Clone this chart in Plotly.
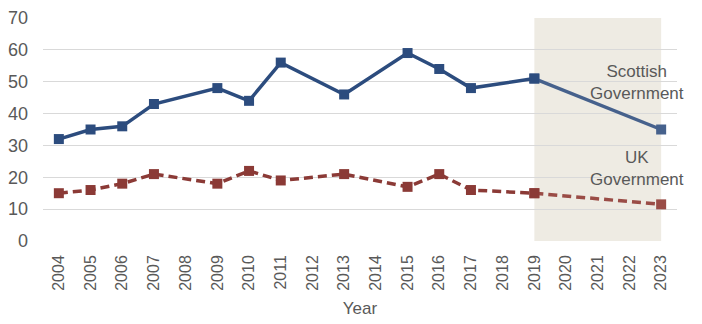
import plotly.graph_objects as go

years = list(range(2004, 2024))
tick_labels = [str(y) for y in years]

sg_years = [2004, 2005, 2006, 2007, 2009, 2010, 2011, 2013, 2015, 2016, 2017, 2019]
sg_values = [32, 35, 36, 43, 48, 44, 56, 46, 59, 54, 48, 51]
uk_years = [2004, 2005, 2006, 2007, 2009, 2010, 2011, 2013, 2015, 2016, 2017, 2019]
uk_values = [15, 16, 18, 21, 18, 22, 19, 21, 17, 21, 16, 15]

proj_years = [2019, 2023]
sg_proj = [51, 35]
uk_proj = [15, 11.5]

shade_start, shade_end = 2019, 2023

BLUE = "#2C4C7E"
BLUE_L = "#46618C"
RED = "#8B3A36"
RED_L = "#9A4C46"
GRAY = "#595959"
FONT = "Liberation Sans, Arial, sans-serif"

fig = go.Figure()

fig.add_shape(type="rect", xref="x", yref="y", x0=shade_start, x1=shade_end, y0=-0.6, y1=70,
              fillcolor="#EEEBE3", line=dict(width=0), layer="below")

fig.add_trace(go.Scatter(x=proj_years, y=sg_proj, mode="lines+markers",
                         line=dict(color=BLUE_L, width=3.5),
                         marker=dict(symbol="square", size=10, color=BLUE_L),
                         showlegend=False, hoverinfo="skip"))
fig.add_trace(go.Scatter(x=proj_years, y=uk_proj, mode="lines+markers",
                         line=dict(color=RED_L, width=3.5, dash="9px,5px"),
                         marker=dict(symbol="square", size=10, color=RED_L),
                         showlegend=False, hoverinfo="skip"))
fig.add_trace(go.Scatter(x=sg_years, y=sg_values, mode="lines+markers", name="Scottish Government",
                         line=dict(color=BLUE, width=3.5),
                         marker=dict(symbol="square", size=10, color=BLUE),
                         showlegend=False))
fig.add_trace(go.Scatter(x=uk_years, y=uk_values, mode="lines+markers", name="UK Government",
                         line=dict(color=RED, width=3.5, dash="9px,5px"),
                         marker=dict(symbol="square", size=10, color=RED),
                         showlegend=False))

fig.add_annotation(x=2022.25, y=49.8, xref="x", yref="y", text="Scottish<br>Government",
                   showarrow=False, font=dict(size=17, color=GRAY, family=FONT), align="center")
fig.add_annotation(x=2022.25, y=22.9, xref="x", yref="y", text="UK<br>Government",
                   showarrow=False, font=dict(size=17, color=GRAY, family=FONT), align="center")

fig.update_layout(
    width=702, height=324,
    margin=dict(l=43, r=25, t=18, b=83),
    plot_bgcolor="white", paper_bgcolor="white",
    font=dict(family=FONT, color=GRAY),
)
fig.update_xaxes(
    range=[2003.5, 2023.5], tickmode="array", tickvals=years, ticktext=tick_labels,
    tickangle=-90, tickfont=dict(size=16, color=GRAY), showgrid=False, zeroline=False,
    showline=False, ticks="", ticklabelstandoff=10, automargin=False,
    title=dict(text="Year", font=dict(size=17, color=GRAY), standoff=12),
)
fig.update_yaxes(
    range=[0, 70], dtick=10, showgrid=True, gridcolor="#D9D9D9", gridwidth=1,
    zeroline=False, showline=False, ticks="", ticklabelstandoff=14, automargin=False,
    tickfont=dict(size=18, color=GRAY),
)

fig.write_html("out.html")
